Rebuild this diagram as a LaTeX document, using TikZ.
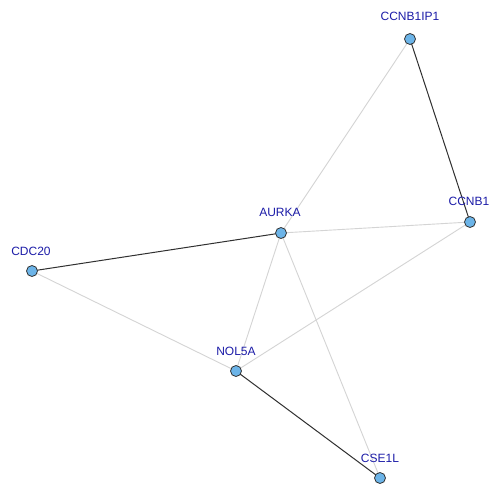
\documentclass[tikz,border=0pt]{standalone}
\usepackage{fontspec}
\setmainfont{Liberation Sans}
\definecolor{nodefill}{HTML}{6CB4E8}
\definecolor{labelblue}{HTML}{1C1CA8}
\definecolor{lightedge}{HTML}{D4D4D4}
\definecolor{darkedge}{HTML}{303030}
\begin{document}
\begin{tikzpicture}[x=1pt,y=-1pt,
  gene/.style={circle,draw=black!80,fill=nodefill,line width=0.8pt,minimum size=11pt,inner sep=0pt},
  glabel/.style={text=labelblue,font=\fontsize{12}{14}\selectfont,inner sep=0pt},
  weak/.style={draw=lightedge,line width=0.9pt},
  strong/.style={draw=darkedge,line width=1pt}]
\useasboundingbox (0,0) rectangle (490,487);
\fill[white] (0,0) rectangle (490,487);
\coordinate (pCCNB1IP1) at (410,39);
\coordinate (pCCNB1) at (470,222);
\coordinate (pAURKA) at (281,233);
\coordinate (pCDC20) at (32,271);
\coordinate (pNOL5A) at (236,371);
\coordinate (pCSE1L) at (380,478);
% edges
\draw[weak] (pCCNB1IP1) -- (pAURKA);
\draw[weak] (pAURKA) -- (pCCNB1);
\draw[weak] (pAURKA) -- (pNOL5A);
\draw[weak] (pAURKA) -- (pCSE1L);
\draw[weak] (pCDC20) -- (pNOL5A);
\draw[weak] (pNOL5A) -- (pCCNB1);
\draw[strong] (pCCNB1IP1) -- (pCCNB1);
\draw[strong] (pAURKA) -- (pCDC20);
\draw[strong] (pNOL5A) -- (pCSE1L);
% nodes
\node[gene] (CCNB1IP1) at (pCCNB1IP1) {};
\node[gene] (CCNB1) at (pCCNB1) {};
\node[gene] (AURKA) at (pAURKA) {};
\node[gene] (CDC20) at (pCDC20) {};
\node[gene] (NOL5A) at (pNOL5A) {};
\node[gene] (CSE1L) at (pCSE1L) {};
% labels
\node[glabel] (lCCNB1IP1) at (410,16) {CCNB1IP1};
\node[glabel] (lCCNB1) at (469,201) {CCNB1};
\node[glabel] (lAURKA) at (280,212) {AURKA};
\node[glabel] (lCDC20) at (31,251) {CDC20};
\node[glabel] (lNOL5A) at (236,351) {NOL5A};
\node[glabel] (lCSE1L) at (380,458) {CSE1L};
\end{tikzpicture}
\end{document}
